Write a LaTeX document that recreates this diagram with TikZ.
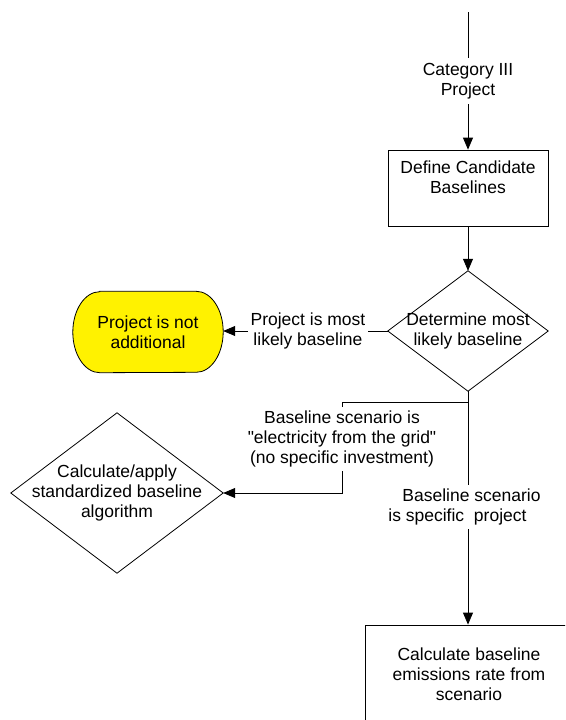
\documentclass[tikz,border=0pt]{standalone}
\usepackage{fontspec}
\setmainfont{Liberation Sans}[Ligatures=TeXOff]
\usetikzlibrary{arrows.meta,backgrounds}
\begin{document}
\begin{tikzpicture}[x=1pt,y=-1pt,
  every node/.style={font=\fontsize{17.5}{20}\selectfont, align=center},
  conn/.style={line width=0.8pt},
  arr/.style={conn, -{Triangle[width=10pt,length=12pt]}},
  lbl/.style={fill=white, inner xsep=3pt, inner ysep=4pt},
  boxnode/.style={draw, line width=0.8pt, inner sep=0pt},
  holder/.style={inner sep=0pt},
  outline/.style={draw, line width=0.8pt}]
\useasboundingbox (0,0) rectangle (565,720);
\clip (0,0) rectangle (565,720);

% nodes
\coordinate (start) at (468,12);
\node[boxnode, minimum width=160pt, minimum height=76pt] (box1) at (468,188) {};
\node[holder] (box1t) at (468,177) {Define Candidate\\Baselines};

\node[holder, minimum width=160pt, minimum height=120pt] (d1) at (468,331) {Determine most\\likely baseline};
\draw[outline] (d1.north) -- (d1.east) -- (d1.south) -- (d1.west) -- cycle;

\node[holder, minimum width=150pt, minimum height=81pt] (term) at (148,332) {Project is not\\additional};
\begin{scope}[on background layer]
\path[draw, line width=0.8pt, fill=yellow]
  ([xshift=27pt]term.north west) -- ([xshift=-27pt]term.north east)
  arc[start angle=90, end angle=-90, x radius=27pt, y radius=40.5pt]
  -- ([xshift=27pt]term.south west)
  arc[start angle=270, end angle=90, x radius=27pt, y radius=40.5pt] -- cycle;
\end{scope}

\node[holder, minimum width=212pt, minimum height=160pt] (d2) at (117,493) {Calculate/apply\\standardized baseline\\algorithm};
\draw[outline] (d2.north) -- (d2.east) -- (d2.south) -- (d2.west) -- cycle;

\node[boxnode, minimum width=208pt, minimum height=98pt] (box3) at (469,674) {Calculate baseline\\emissions rate from\\scenario};

% connectors
\draw[arr] (start) -- node[lbl, inner ysep=5pt] {Category III\\Project} (box1.north);
\draw[arr] (box1.south) -- (d1.north);
\draw[arr] (d1.west) -- node[lbl, pos=0.485, inner xsep=2.5pt] {Project is most\\likely baseline} (d1.west -| term.east);

\coordinate (j) at (468,402);
\coordinate (k1) at (342,402);
\coordinate (k2) at (342,493);
\draw[conn] (d1.south) -- (j);
\draw[arr] (j) -- (k1) -- node[lbl, pos=0.41] {Baseline scenario is\\"electricity from the grid"\\(no specific investment)} (k2) -- (d2.east);
\draw[arr] (j) -- node[lbl, pos=0.473, anchor=west, xshift=-80pt, inner xsep=0pt, align=left] {\hspace*{14pt}Baseline scenario\\is specific\ \ project} (j |- box3.north);
\end{tikzpicture}
\end{document}
